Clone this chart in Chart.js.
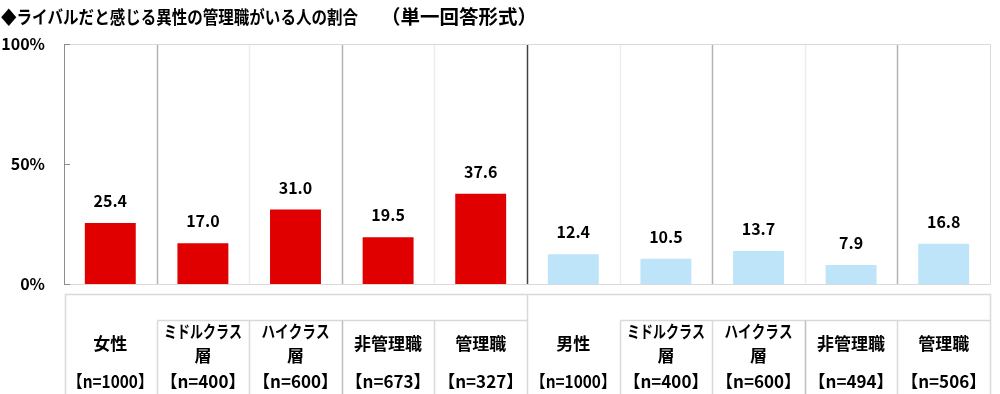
<!DOCTYPE html>
<html><head><meta charset="utf-8">
<script src="https://cdn.jsdelivr.net/npm/chart.js@4"></script>
<style>html,body{margin:0;padding:0;background:#fff}#wrap{width:1000px;height:394px;position:relative}</style>
</head><body><div id="wrap"><canvas id="c" width="1000" height="394"></canvas></div>
<script>
const TITLE_MAIN = '◆ライバルだと感じる異性の管理職がいる人の割合';
const TITLE_SUB = '（単一回答形式）';
const categories = [['女性'], ['ミドルクラス','層'], ['ハイクラス','層'], ['非管理職'], ['管理職'], ['男性'], ['ミドルクラス','層'], ['ハイクラス','層'], ['非管理職'], ['管理職']];
const sampleSizes = ['【n=1000】','【n=400】','【n=600】','【n=673】','【n=327】','【n=1000】','【n=400】','【n=600】','【n=494】','【n=506】'];
const values = [25.4, 17.0, 31.0, 19.5, 37.6, 12.4, 10.5, 13.7, 7.9, 16.8];
const groups = ['女性','女性','女性','女性','女性','男性','男性','男性','男性','男性'];
const yTicks = [0, 50, 100];

const groupColor = {'女性':'#E00000','男性':'#BEE4FA'};
const FONT = '"Noto Sans CJK JP", "Noto Sans", sans-serif';
const kanaWidth = {'ミドルクラス': 78, 'ハイクラス': 68};

const custom = {
  id: 'custom',
  beforeDatasetsDraw(chart) {
    const ctx = chart.ctx, a = chart.chartArea, x = chart.scales.x, y = chart.scales.y;
    ctx.save();
    ctx.lineWidth = 1;
    ctx.strokeStyle = '#d9d9d9';
    ctx.beginPath();
    ctx.moveTo(a.left, a.top + 0.5); ctx.lineTo(a.right + 0.5, a.top + 0.5);
    ctx.lineTo(a.right + 0.5, a.bottom);
    ctx.moveTo(a.left, a.bottom + 0.5); ctx.lineTo(a.right + 0.5, a.bottom + 0.5);
    ctx.stroke();
    const n = values.length;
    for (let i = 1; i < n; i++) {
      const px = Math.round((x.getPixelForValue(i - 1) + x.getPixelForValue(i)) / 2) + 0.5;
      let col;
      if (i === 5) col = '#404040';
      else if (i % 2 === 1) col = '#b3b3b3';
      else col = '#ececec';
      ctx.strokeStyle = col;
      ctx.lineWidth = 1.5;
      ctx.beginPath(); ctx.moveTo(px, a.top + 1); ctx.lineTo(px, a.bottom); ctx.stroke();
    }
    ctx.strokeStyle = '#8c8c8c';
    ctx.lineWidth = 1;
    ctx.beginPath();
    ctx.moveTo(a.left + 0.5, a.top); ctx.lineTo(a.left + 0.5, a.bottom + 1);
    yTicks.forEach(v => {
      const py = Math.round(y.getPixelForValue(v)) + 0.5;
      ctx.moveTo(a.left, py); ctx.lineTo(a.left + 6, py);
    });
    ctx.stroke();
    ctx.restore();
  },
  afterDatasetsDraw(chart) {
    const ctx = chart.ctx, a = chart.chartArea, x = chart.scales.x;
    const meta = chart.getDatasetMeta(0);
    ctx.save();
    ctx.fillStyle = '#000';
    ctx.font = 'bold 16px ' + FONT;
    ctx.textAlign = 'center';
    ctx.textBaseline = 'middle';
    meta.data.forEach((bar, i) => {
      ctx.fillText(values[i].toFixed(1), bar.x, bar.y - 22);
    });
    // title
    ctx.textAlign = 'left';
    ctx.font = 'bold 18px ' + FONT;
    ctx.fillText(TITLE_MAIN, 1, 17, 357);
    ctx.textAlign = 'right';
    ctx.font = 'bold 19.5px ' + FONT;
    ctx.fillText(TITLE_SUB, 537, 17);
    // table
    const n = values.length;
    const edge = i => (i === 0) ? a.left : (i === n ? a.right : (x.getPixelForValue(i - 1) + x.getPixelForValue(i)) / 2);
    const tTop = 294.5, tMid = 320.5, tBot = 400;
    ctx.strokeStyle = '#d9d9d9';
    ctx.lineWidth = 1.5;
    ctx.beginPath();
    ctx.moveTo(a.left + 1.5, tBot); ctx.lineTo(a.left + 1.5, tTop); ctx.lineTo(a.right + 0.5, tTop); ctx.lineTo(a.right + 0.5, tBot);
    const m5 = Math.round(edge(5)) + 0.5;
    ctx.moveTo(m5, tTop); ctx.lineTo(m5, tBot);
    ctx.moveTo(Math.round(edge(1)) + 0.5, tMid); ctx.lineTo(m5, tMid);
    ctx.moveTo(Math.round(edge(6)) + 0.5, tMid); ctx.lineTo(a.right + 0.5, tMid);
    [1, 2, 4, 6, 7, 9].forEach(i => {
      const px = Math.round(edge(i)) + 0.5;
      ctx.moveTo(px, tMid); ctx.lineTo(px, tBot);
    });
    ctx.stroke();
    ctx.strokeStyle = '#bfbfbf';
    ctx.beginPath();
    [3, 8].forEach(i => {
      const px = Math.round(edge(i)) + 0.5;
      ctx.moveTo(px, tMid); ctx.lineTo(px, tBot);
    });
    ctx.stroke();
    ctx.fillStyle = '#000';
    ctx.textAlign = 'center';
    ctx.textBaseline = 'middle';
    ctx.font = 'bold 17px ' + FONT;
    categories.forEach((lines, i) => {
      const cx = x.getPixelForValue(i);
      if (lines.length === 1) {
        ctx.fillText(lines[0], cx, 344);
      } else {
        ctx.fillText(lines[0], cx, 332, kanaWidth[lines[0]]);
        ctx.fillText(lines[1], cx, 356);
      }
      ctx.fillText(sampleSizes[i], cx, 382, 86);
    });
    ctx.restore();
  }
};

new Chart(document.getElementById('c'), {
  type: 'bar',
  data: {
    labels: categories.map(l => l.join('')),
    datasets: [{
      data: values,
      backgroundColor: groups.map(g => groupColor[g]),
      borderWidth: 0,
      categoryPercentage: 1.0,
      barPercentage: 0.55
    }]
  },
  options: {
    responsive: false,
    animation: false,
    devicePixelRatio: 1,
    layout: { padding: { top: 44, right: 10, bottom: 110, left: 0 } },
    plugins: { legend: { display: false }, tooltip: { enabled: false }, title: { display: false } },
    scales: {
      x: {
        grid: { display: false },
        border: { display: false },
        ticks: { display: false },
        afterFit(s) { s.height = 0; }
      },
      y: {
        min: 0, max: 100,
        afterBuildTicks(s) { s.ticks = yTicks.map(v => ({ value: v })); },
        grid: { display: false, drawTicks: false },
        border: { display: false },
        ticks: {
          padding: 19,
          color: '#000',
          font: { family: FONT, size: 16, weight: 'bold' },
          callback: v => v + '%'
        },
        afterFit(s) { s.width = 64; }
      }
    }
  },
  plugins: [custom]
});
</script></body></html>
